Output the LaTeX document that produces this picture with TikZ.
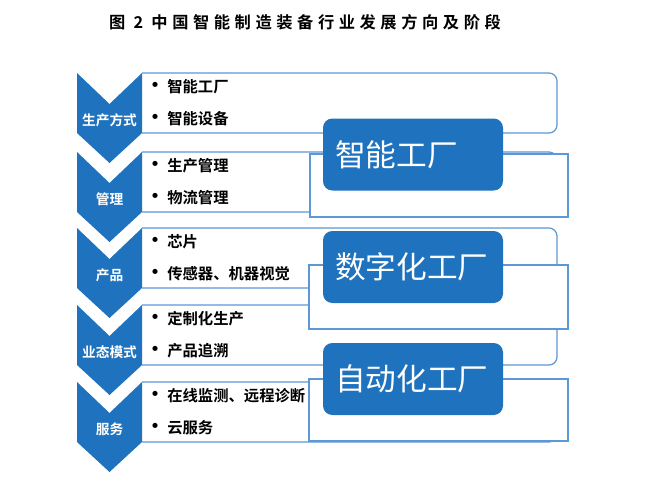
\documentclass[tikz,border=0pt]{standalone}
\usepackage{fontspec}
\usepackage{tikz}
\setmainfont{Noto Sans CJK SC}
\newfontfamily\cjkbold{Noto Sans CJK SC Bold}
\newfontfamily\titlefont[LetterSpace=28]{Noto Sans CJK SC Bold}
\definecolor{chevblue}{RGB}{31,114,189}
\definecolor{lineblue}{RGB}{92,152,212}
\newcommand\chevron[1]{\fill [chevblue] (77,#1) -- (109.5,#1+31) -- (142,#1) -- (142,#1+60) -- (109.5,#1+90) -- (77,#1+60) -- cycle;}
\newcommand\itembullet{{\fontsize{15}{13}\selectfont •}\hspace{1.5pt}}

\begin{document}
\begin{tikzpicture}[x=0.75pt, y=-0.75pt,
    rowbox/.style={draw=lineblue, fill=white, line width=0.9pt, rounded corners=6pt},
    bracketbox/.style={draw=lineblue, fill=white, line width=0.9pt},
    stagebox/.style={fill=chevblue, rounded corners=7pt, minimum height=54pt,
      text width=117pt, inner xsep=9pt, align=left,
      text=white, font=\fontsize{23}{25}\selectfont},
    chevtext/.style={text=white, font=\cjkbold\fontsize{10.3}{12}\selectfont},
    itemtext/.style={anchor=west, inner sep=0, font=\cjkbold\fontsize{11.5}{13}\selectfont}]
  \useasboundingbox [fill=white] (0,0) rectangle (666,500);

  \node [font=\titlefont\fontsize{12.2}{14}\selectfont] (title) at (305,22) {图 2 中国智能制造装备行业发展方向及阶段};

  % rows: chevron, box and two items
  \foreach \t/\lab/\a/\b [count=\i] in {73/生产方式/智能工厂/智能设备,
      152/管理/生产管理/物流管理,
      228/产品/芯片/传感器、机器视觉,
      305/业态模式/定制化生产/产品追溯,
      382/服务/在线监测、远程诊断/云服务} {
    \path [rowbox] (142,\t) -- (557,\t) -- (557,\t+60) -- (142,\t+60);
    \chevron{\t}
    \node [chevtext] (lab\i) at (109.5,\t+47) {\lab};
    \node [itemtext] (a\i) at (145,\t+14) {\itembullet\a};
    \node [itemtext] (b\i) at (145,\t+46) {\itembullet\b};
  }

  % stages
  \filldraw [bracketbox] (310,154) rectangle (568,217);
  \filldraw [bracketbox] (309,265) rectangle (568,329);
  \filldraw [bracketbox] (309,379) rectangle (568,441);

  \node [stagebox] (s1) at (413,154.5) {智能工厂};
  \node [stagebox] (s2) at (413,267) {数字化工厂};
  \node [stagebox] (s3) at (413,379) {自动化工厂};
\end{tikzpicture}
\end{document}
